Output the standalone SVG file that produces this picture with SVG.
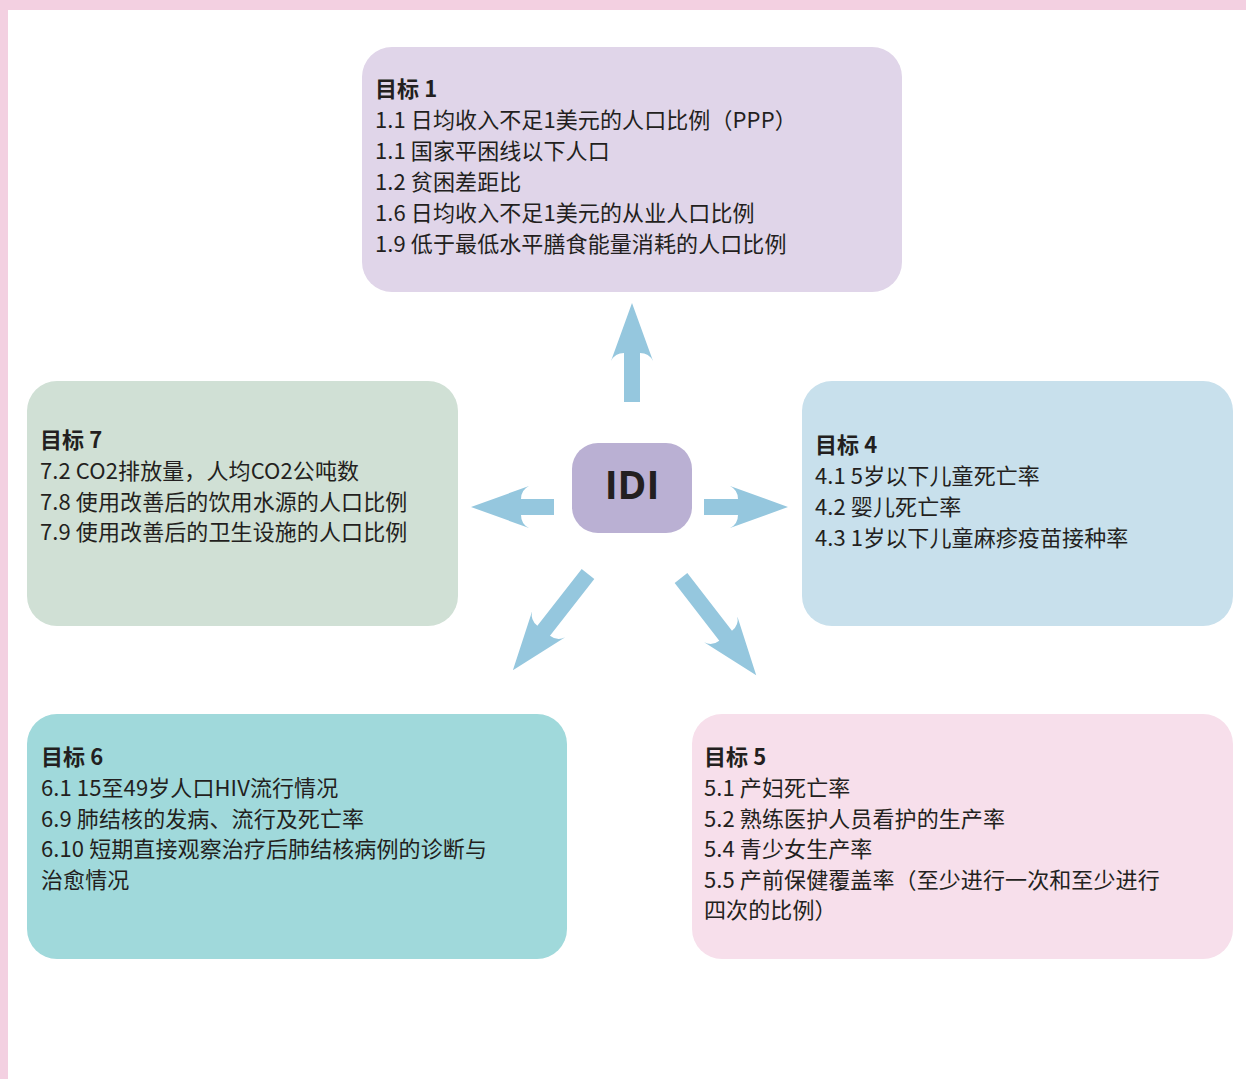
<svg xmlns="http://www.w3.org/2000/svg" width="1246" height="1079" viewBox="0 0 1246 1079">
<style>
.t{font-family:"Noto Sans CJK SC","Noto Sans",sans-serif;font-size:22px;fill:#231f20;letter-spacing:0.1px}
.b{font-weight:bold}
.arr{fill:#95c7de}
</style>
<rect x="0" y="0" width="1246" height="1079" fill="#ffffff"/>
<rect x="0" y="0" width="1246" height="10" fill="#f3d0e1"/>
<rect x="0" y="0" width="8" height="1079" fill="#f3d0e1"/>

<g id="goal1">
<rect x="362" y="47" width="540" height="245" rx="30" fill="#e0d5e9"/>
<text class="t" x="375" y="97"><tspan class="b">目标 1</tspan><tspan x="375" dy="31">1.1 日均收入不足1美元的人口比例（PPP）</tspan><tspan x="375" dy="31">1.1 国家平困线以下人口</tspan><tspan x="375" dy="31">1.2 贫困差距比</tspan><tspan x="375" dy="31">1.6 日均收入不足1美元的从业人口比例</tspan><tspan x="375" dy="31">1.9 低于最低水平膳食能量消耗的人口比例</tspan></text>
</g>

<g id="goal7">
<rect x="27" y="381" width="431" height="245" rx="30" fill="#d0e0d5"/>
<text class="t" x="40" y="448"><tspan class="b">目标 7</tspan><tspan x="40" dy="31">7.2 CO2排放量，人均CO2公吨数</tspan><tspan x="40" dy="30.5">7.8 使用改善后的饮用水源的人口比例</tspan><tspan x="40" dy="30.5">7.9 使用改善后的卫生设施的人口比例</tspan></text>
</g>

<g id="goal4">
<rect x="802" y="381" width="431" height="245" rx="30" fill="#c8e0ec"/>
<text class="t" x="815" y="453"><tspan class="b">目标 4</tspan><tspan x="815" dy="31">4.1 5岁以下儿童死亡率</tspan><tspan x="815" dy="31">4.2 婴儿死亡率</tspan><tspan x="815" dy="31">4.3 1岁以下儿童麻疹疫苗接种率</tspan></text>
</g>

<g id="goal6">
<rect x="27" y="714" width="540" height="245" rx="30" fill="#a0d9db"/>
<text class="t" x="41" y="765"><tspan class="b">目标 6</tspan><tspan x="41" dy="31">6.1 15至49岁人口HIV流行情况</tspan><tspan x="41" dy="30.7">6.9 肺结核的发病、流行及死亡率</tspan><tspan x="41" dy="30.7">6.10 短期直接观察治疗后肺结核病例的诊断与</tspan><tspan x="41" dy="30.7">治愈情况</tspan></text>
</g>

<g id="goal5">
<rect x="692" y="714" width="541" height="245" rx="30" fill="#f7dfeb"/>
<text class="t" x="704" y="765"><tspan class="b">目标 5</tspan><tspan x="704" dy="31">5.1 产妇死亡率</tspan><tspan x="704" dy="30.5">5.2 熟练医护人员看护的生产率</tspan><tspan x="704" dy="30.5">5.4 青少女生产率</tspan><tspan x="704" dy="30.5">5.5 产前保健覆盖率（至少进行一次和至少进行</tspan><tspan x="704" dy="30.5">四次的比例）</tspan></text>
</g>

<g id="idi">
<rect x="572" y="443" width="120" height="90" rx="26" fill="#bab0d3"/>
<text x="632" y="499" text-anchor="middle" font-family="'Open Sans','Noto Sans',sans-serif" font-weight="bold" font-size="39" fill="#231f20">IDI</text>
</g>

<g id="connectors" class="arr">
<path transform="translate(632,402) rotate(-90)" d="M0,-8 H49 Q49,-17 41,-21 L99,0 L41,21 Q49,17 49,8 H0 Z"/>
<path transform="translate(554,507) rotate(180)" d="M0,-8 H33 Q33,-17 25,-21 L83,0 L25,21 Q33,17 33,8 H0 Z"/>
<path transform="translate(704,507)" d="M0,-8 H34 Q34,-17 26,-21 L84,0 L26,21 Q34,17 34,8 H0 Z"/>
<path transform="translate(588,574) rotate(128)" d="M0,-8 H72 Q72,-17 64,-21 L122,0 L64,21 Q72,17 72,8 H0 Z"/>
<path transform="translate(681,578) rotate(52.3)" d="M0,-8 H73 Q73,-17 65,-21 L123,0 L65,21 Q73,17 73,8 H0 Z"/>
</g>
</svg>
